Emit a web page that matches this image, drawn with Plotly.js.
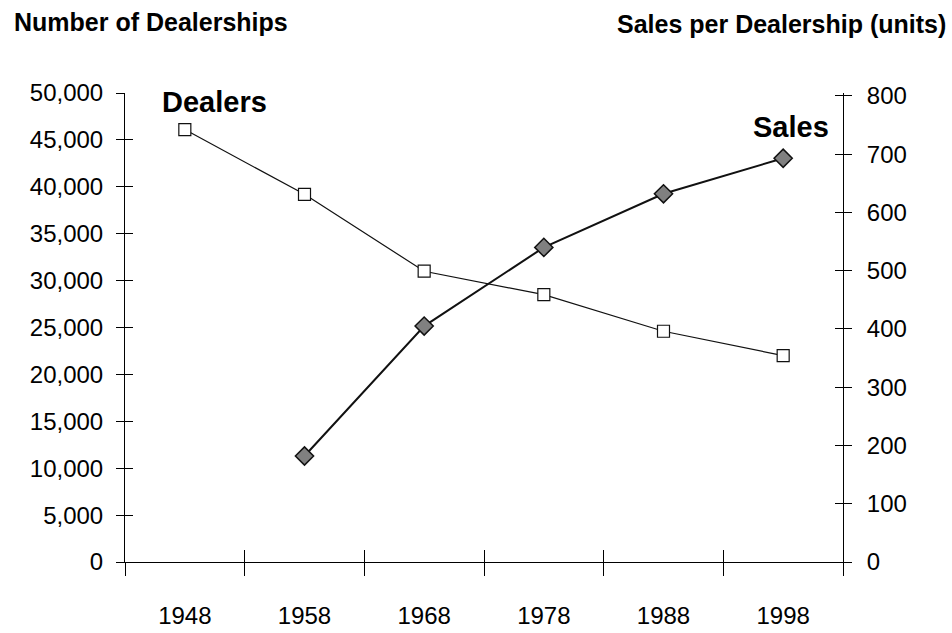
<!DOCTYPE html>
<html>
<head>
<meta charset="utf-8">
<script src="https://cdn.plot.ly/plotly-3.0.1.min.js"></script>
<style>html,body{margin:0;padding:0;background:#fff;}#chart{width:952px;height:633px;}</style>
</head>
<body>
<div id="chart"></div>
<script>
// Data
const years = ['1948', '1958', '1968', '1978', '1988', '1998'];
const dealers = [46100, 39200, 31000, 28500, 24600, 22000];
const salesYears = ['1958', '1968', '1978', '1988', '1998'];
const salesPerDealer = [182, 405, 540, 632, 693];
const leftTicks = [0, 5000, 10000, 15000, 20000, 25000, 30000, 35000, 40000, 45000, 50000];
const rightTicks = [0, 100, 200, 300, 400, 500, 600, 700, 800];

const F = 'Liberation Sans, Arial, sans-serif';

const traces = [
  {
    x: years, y: dealers, type: 'scatter', mode: 'lines+markers',
    xaxis: 'x', yaxis: 'y', name: 'Dealers',
    line: {color: '#111', width: 1.2},
    marker: {symbol: 'square', size: 12, color: '#fff', line: {color: '#111', width: 1.2}}
  },
  {
    x: salesYears, y: salesPerDealer, type: 'scatter', mode: 'lines+markers',
    xaxis: 'x', yaxis: 'y2', name: 'Sales',
    line: {color: '#111', width: 2},
    marker: {symbol: 'diamond', size: 14, color: '#808080', line: {color: '#111', width: 1.5}}
  },
  // empty helper traces so the overlay axes (inner halves of the crossing ticks) are drawn
  {x: [], y: [], type: 'scatter', mode: 'markers', xaxis: 'x2', yaxis: 'y', hoverinfo: 'skip'},
  {x: [], y: [], type: 'scatter', mode: 'markers', xaxis: 'x', yaxis: 'y3', hoverinfo: 'skip'},
  {x: [], y: [], type: 'scatter', mode: 'markers', xaxis: 'x', yaxis: 'y4', hoverinfo: 'skip'}
];

const layout = {
  width: 952, height: 633,
  margin: {l: 125, r: 109, t: 93, b: 71},
  paper_bgcolor: '#fff', plot_bgcolor: '#fff',
  showlegend: false,
  font: {family: F, color: '#000', size: 24},
  xaxis: {
    type: 'category', categoryarray: years, categoryorder: 'array',
    range: [-0.5, 5.5], tickson: 'boundaries',
    ticks: 'outside', ticklen: 13, tickwidth: 1, tickcolor: '#000',
    showline: true, linecolor: '#000', linewidth: 1,
    showgrid: false, zeroline: false,
    tickfont: {family: F, size: 24, color: '#000'},
    ticklabelstandoff: 32
  },
  xaxis2: {
    type: 'linear', overlaying: 'x', anchor: 'y', side: 'bottom',
    range: [-0.5, 5.5], tick0: 0.5, dtick: 1,
    ticks: 'inside', ticklen: 12, tickwidth: 1, tickcolor: '#000',
    showticklabels: false, showline: false, showgrid: false, zeroline: false
  },
  yaxis: {
    range: [0, 50000], tickvals: leftTicks, tickformat: ',d',
    ticks: 'outside', ticklen: 8, tickwidth: 1, tickcolor: '#000',
    showline: true, linecolor: '#000', linewidth: 1,
    showgrid: false, zeroline: false,
    tickfont: {family: F, size: 24, color: '#000'},
    ticklabelstandoff: 8
  },
  yaxis3: {
    overlaying: 'y', anchor: 'x', side: 'left',
    range: [0, 50000], tickvals: leftTicks,
    ticks: 'inside', ticklen: 8, tickwidth: 1, tickcolor: '#000',
    showticklabels: false, showline: false, showgrid: false, zeroline: false
  },
  yaxis2: {
    overlaying: 'y', side: 'right', anchor: 'x',
    range: [0, 805], tickvals: rightTicks,
    ticks: 'outside', ticklen: 8, tickwidth: 1, tickcolor: '#000',
    showline: true, linecolor: '#000', linewidth: 1,
    showgrid: false, zeroline: false,
    tickfont: {family: F, size: 24, color: '#000'},
    ticklabelstandoff: 10
  },
  yaxis4: {
    overlaying: 'y', side: 'right', anchor: 'x',
    range: [0, 805], tickvals: rightTicks,
    ticks: 'inside', ticklen: 8, tickwidth: 1, tickcolor: '#000',
    showticklabels: false, showline: false, showgrid: false, zeroline: false
  },
  annotations: [
    {text: '<b>Number of Dealerships</b>', xref: 'paper', yref: 'paper',
     x: (12 - 125) / 718, y: (562 - 22) / 469, xanchor: 'left', yanchor: 'middle',
     showarrow: false, font: {family: F, size: 25, color: '#000'}},
    {text: '<b>Sales per Dealership (units)</b>', xref: 'paper', yref: 'paper',
     x: (948 - 125) / 718, y: (562 - 24) / 469, xanchor: 'right', yanchor: 'middle',
     showarrow: false, font: {family: F, size: 25, color: '#000'}},
    {text: '<b>Dealers</b>', xref: 'paper', yref: 'paper',
     x: (160 - 125) / 718, y: (562 - 102) / 469, xanchor: 'left', yanchor: 'middle',
     showarrow: false, font: {family: F, size: 29, color: '#000'}},
    {text: '<b>Sales</b>', xref: 'paper', yref: 'paper',
     x: (831 - 125) / 718, y: (562 - 127) / 469, xanchor: 'right', yanchor: 'middle',
     showarrow: false, font: {family: F, size: 29, color: '#000'}}
  ]
};

Plotly.newPlot('chart', traces, layout, {displayModeBar: false, staticPlot: true});
</script>
</body>
</html>
